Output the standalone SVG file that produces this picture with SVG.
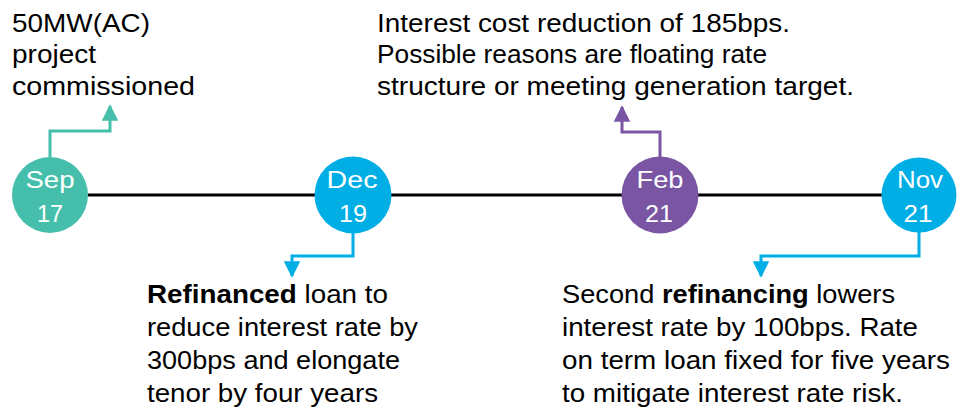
<svg xmlns="http://www.w3.org/2000/svg" width="957" height="407" viewBox="0 0 957 407">
<defs>
<style>
text{font-family:"Liberation Sans",Arial,sans-serif;font-size:25px;fill:#000}
.d{fill:#fff;text-anchor:middle;font-size:24.5px}
.c{fill:none;stroke-width:3}
</style>
<marker id="aT" viewBox="0 0 10 10" refX="9" refY="5" markerWidth="5.5" markerHeight="5.5" orient="auto" markerUnits="strokeWidth"><path d="M0,0L10,5L0,10z" fill="#45BFAB"/></marker>
<marker id="aB" viewBox="0 0 10 10" refX="9" refY="5" markerWidth="5.5" markerHeight="5.5" orient="auto" markerUnits="strokeWidth"><path d="M0,0L10,5L0,10z" fill="#00AEE6"/></marker>
<marker id="aP" viewBox="0 0 10 10" refX="9" refY="5" markerWidth="5.5" markerHeight="5.5" orient="auto" markerUnits="strokeWidth"><path d="M0,0L10,5L0,10z" fill="#7955A3"/></marker>
</defs>
<g id="connectors">
<line x1="88" y1="195" x2="882" y2="195" stroke="#000" stroke-width="3"/>
<path class="c" d="M50,157V131H110V106" stroke="#45BFAB" marker-end="url(#aT)"/>
<path class="c" d="M353,232V256H292V276" stroke="#00AEE6" marker-end="url(#aB)"/>
<path class="c" d="M660,157V132H622V107" stroke="#7955A3" marker-end="url(#aP)"/>
<path class="c" d="M919,232V256H761V276" stroke="#00AEE6" marker-end="url(#aB)"/>
</g>
<g id="sep17"><circle cx="50" cy="195" r="38" fill="#45BFAB"/><text class="d" x="50" y="188" textLength="49" lengthAdjust="spacingAndGlyphs">Sep</text><text class="d" x="50" y="222" textLength="26" lengthAdjust="spacingAndGlyphs">17</text></g>
<g id="dec19"><circle cx="353" cy="195" r="38.5" fill="#00AEE6"/><text class="d" x="352" y="188" textLength="51" lengthAdjust="spacingAndGlyphs">Dec</text><text class="d" x="353" y="222" textLength="28" lengthAdjust="spacingAndGlyphs">19</text></g>
<g id="feb21"><circle cx="660" cy="195" r="38.5" fill="#7955A3"/><text class="d" x="660" y="188" textLength="47" lengthAdjust="spacingAndGlyphs">Feb</text><text class="d" x="659" y="222" textLength="28" lengthAdjust="spacingAndGlyphs">21</text></g>
<g id="nov21"><circle cx="919" cy="195" r="37.5" fill="#00AEE6"/><text class="d" x="920" y="188" textLength="46" lengthAdjust="spacingAndGlyphs">Nov</text><text class="d" x="918" y="222" textLength="29" lengthAdjust="spacingAndGlyphs">21</text></g>
<g id="note1"><text x="12" y="32" textLength="138" lengthAdjust="spacingAndGlyphs">50MW(AC)</text><text x="12" y="63" textLength="84" lengthAdjust="spacingAndGlyphs">project</text><text x="12" y="95" textLength="183" lengthAdjust="spacingAndGlyphs">commissioned</text></g>
<g id="note2"><text x="377" y="32" textLength="413" lengthAdjust="spacingAndGlyphs">Interest cost reduction of 185bps.</text><text x="377" y="63" textLength="390" lengthAdjust="spacingAndGlyphs">Possible reasons are floating rate</text><text x="377" y="95" textLength="477" lengthAdjust="spacingAndGlyphs">structure or meeting generation target.</text></g>
<g id="note3"><text x="147" y="303" textLength="241" lengthAdjust="spacingAndGlyphs"><tspan font-weight="bold">Refinanced</tspan> loan to</text><text x="147" y="336" textLength="271" lengthAdjust="spacingAndGlyphs">reduce interest rate by</text><text x="147" y="369" textLength="253" lengthAdjust="spacingAndGlyphs">300bps and elongate</text><text x="147" y="402" textLength="231" lengthAdjust="spacingAndGlyphs">tenor by four years</text></g>
<g id="note4"><text x="562" y="303" textLength="333" lengthAdjust="spacingAndGlyphs">Second <tspan font-weight="bold">refinancing</tspan> lowers</text><text x="562" y="336" textLength="356" lengthAdjust="spacingAndGlyphs">interest rate by 100bps. Rate</text><text x="562" y="369" textLength="388" lengthAdjust="spacingAndGlyphs">on term loan fixed for five years</text><text x="562" y="402" textLength="341" lengthAdjust="spacingAndGlyphs">to mitigate interest rate risk.</text></g>
</svg>
